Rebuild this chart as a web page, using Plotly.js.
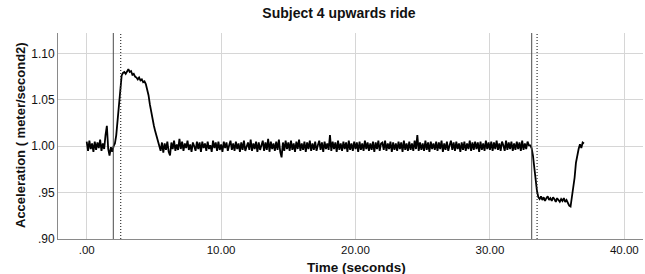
<!DOCTYPE html>
<html>
<head>
<meta charset="utf-8">
<script src="https://cdn.plot.ly/plotly-3.0.1.min.js"></script>
<style>
  html, body { margin: 0; padding: 0; background: #fff; }
  #chart { width: 645px; height: 274px; }
</style>
</head>
<body>
<div id="chart"></div>
<script>
// ---- Data ----
const chartTitle = "Subject 4 upwards ride";
const xTitle = "Time (seconds)";
const yTitle = "Acceleration ( meter/second2)";

const xTickVals = [0, 10, 20, 30, 40];
const xTickText = [".00", "10.00", "20.00", "30.00", "40.00"];
const yTickVals = [0.90, 0.95, 1.00, 1.05, 1.10];
const yTickText = [".90", ".95", "1.00", "1.05", "1.10"];

// event markers: onset (solid) and shifted onset (dotted), start and end of ride
const solidEventTimes = [1.98, 33.11];
const dottedEventTimes = [2.53, 33.51];

const timeSec = [
  0.0,0.1,0.2,0.3,0.4,0.5,0.6,0.7,0.8,0.9,
  1.0,1.1,1.2,1.3,1.4,1.5,1.6,1.7,1.8,1.9,
  2.0,2.1,2.2,2.3,2.4,2.5,2.6,2.7,2.8,2.9,
  3.0,3.1,3.2,3.3,3.4,3.5,3.6,3.7,3.8,3.9,
  4.0,4.1,4.2,4.3,4.4,4.5,4.6,4.7,4.8,4.9,
  5.0,5.1,5.2,5.3,5.4,5.5,5.6,5.7,5.8,5.9,
  6.0,6.1,6.2,6.3,6.4,6.5,6.6,6.7,6.8,6.9,
  7.0,7.1,7.2,7.3,7.4,7.5,7.6,7.7,7.8,7.9,
  8.0,8.1,8.2,8.3,8.4,8.5,8.6,8.7,8.8,8.9,
  9.0,9.1,9.2,9.3,9.4,9.5,9.6,9.7,9.8,9.9,
  10.0,10.1,10.2,10.3,10.4,10.5,10.6,10.7,10.8,10.9,
  11.0,11.1,11.2,11.3,11.4,11.5,11.6,11.7,11.8,11.9,
  12.0,12.1,12.2,12.3,12.4,12.5,12.6,12.7,12.8,12.9,
  13.0,13.1,13.2,13.3,13.4,13.5,13.6,13.7,13.8,13.9,
  14.0,14.1,14.2,14.3,14.4,14.5,14.6,14.7,14.8,14.9,
  15.0,15.1,15.2,15.3,15.4,15.5,15.6,15.7,15.8,15.9,
  16.0,16.1,16.2,16.3,16.4,16.5,16.6,16.7,16.8,16.9,
  17.0,17.1,17.2,17.3,17.4,17.5,17.6,17.7,17.8,17.9,
  18.0,18.1,18.2,18.3,18.4,18.5,18.6,18.7,18.8,18.9,
  19.0,19.1,19.2,19.3,19.4,19.5,19.6,19.7,19.8,19.9,
  20.0,20.1,20.2,20.3,20.4,20.5,20.6,20.7,20.8,20.9,
  21.0,21.1,21.2,21.3,21.4,21.5,21.6,21.7,21.8,21.9,
  22.0,22.1,22.2,22.3,22.4,22.5,22.6,22.7,22.8,22.9,
  23.0,23.1,23.2,23.3,23.4,23.5,23.6,23.7,23.8,23.9,
  24.0,24.1,24.2,24.3,24.4,24.5,24.6,24.7,24.8,24.9,
  25.0,25.1,25.2,25.3,25.4,25.5,25.6,25.7,25.8,25.9,
  26.0,26.1,26.2,26.3,26.4,26.5,26.6,26.7,26.8,26.9,
  27.0,27.1,27.2,27.3,27.4,27.5,27.6,27.7,27.8,27.9,
  28.0,28.1,28.2,28.3,28.4,28.5,28.6,28.7,28.8,28.9,
  29.0,29.1,29.2,29.3,29.4,29.5,29.6,29.7,29.8,29.9,
  30.0,30.1,30.2,30.3,30.4,30.5,30.6,30.7,30.8,30.9,
  31.0,31.1,31.2,31.3,31.4,31.5,31.6,31.7,31.8,31.9,
  32.0,32.1,32.2,32.3,32.4,32.5,32.6,32.7,32.8,32.9,
  33.0,33.1,33.2,33.3,33.4,33.5,33.6,33.7,33.8,33.9,
  34.0,34.1,34.2,34.3,34.4,34.5,34.6,34.7,34.8,34.9,
  35.0,35.1,35.2,35.3,35.4,35.5,35.6,35.7,35.8,35.9,
  36.0,36.1,36.2,36.3,36.4,36.5,36.6,36.7,36.8,36.9,
  37.0
];

const acceleration = [
  1.005,0.995,1.006,0.997,1.003,0.994,1.005,0.996,1.004,0.998,
  1.007,0.995,1.003,0.997,1.012,1.022,0.997,0.990,0.999,0.994,
  1.000,1.003,1.012,1.028,1.045,1.062,1.076,1.079,1.080,1.078,
  1.081,1.083,1.080,1.081,1.077,1.078,1.075,1.074,1.072,1.074,
  1.071,1.072,1.069,1.070,1.067,1.062,1.055,1.045,1.036,1.028,
  1.022,1.016,1.010,1.004,0.999,0.995,1.004,0.993,1.003,0.996,
  1.005,0.994,0.990,1.004,0.997,1.006,0.995,1.002,0.996,1.008,
  0.997,1.005,0.995,1.003,0.998,1.006,0.996,1.002,0.994,1.004,
  1.000,0.995,1.005,0.997,1.004,0.994,1.005,0.998,1.003,0.995,
  1.005,0.997,1.001,0.994,1.006,0.998,1.004,0.995,1.005,0.996,
  1.002,0.994,1.005,0.998,1.004,0.995,1.001,1.006,0.996,1.003,
  0.995,1.005,0.997,1.003,0.994,1.004,0.996,1.006,0.995,1.001,
  1.004,0.996,1.007,0.995,1.003,0.997,1.005,0.994,1.004,0.996,
  1.001,1.006,0.995,1.004,0.996,1.008,0.994,1.005,0.997,1.003,
  0.995,1.005,0.996,1.007,0.994,0.988,1.004,0.995,1.006,0.997,
  1.004,0.995,1.006,0.996,1.003,0.994,1.005,0.997,1.007,0.995,
  1.003,0.996,1.005,0.994,1.004,0.997,1.006,0.995,1.003,0.996,
  1.005,0.995,1.001,1.006,0.996,1.004,0.994,1.005,0.997,1.003,
  0.996,1.012,0.995,1.005,0.997,1.004,0.994,1.006,0.996,1.003,
  0.995,1.005,0.997,1.004,0.994,1.006,0.996,1.003,0.995,1.005,
  0.997,1.004,0.994,1.005,0.996,1.003,0.995,1.006,0.997,1.004,
  0.995,1.003,0.996,1.005,0.994,1.004,0.997,1.006,0.995,1.003,
  1.004,0.996,1.006,0.995,1.003,0.997,1.005,0.994,1.004,0.996,
  1.003,0.995,1.005,0.997,1.004,0.994,1.006,0.996,1.003,0.995,
  1.005,0.996,1.003,0.995,1.006,0.997,1.012,0.995,1.004,0.996,
  1.003,0.995,1.006,0.996,1.004,0.994,1.005,0.997,1.003,0.996,
  1.005,0.995,1.004,0.997,1.006,0.994,1.003,0.996,1.005,0.995,
  1.001,1.006,0.996,1.004,0.995,1.005,0.997,1.003,0.994,1.004,
  0.996,1.005,0.995,1.003,0.997,1.006,0.995,1.004,0.996,1.005,
  0.997,1.004,0.994,1.005,0.996,1.003,0.995,1.006,0.997,1.004,
  0.996,1.005,0.995,1.004,0.997,1.006,0.996,1.003,0.995,1.005,
  1.001,0.995,1.006,0.996,1.004,0.997,1.005,0.995,1.003,0.996,
  1.005,0.997,1.004,0.995,1.006,0.996,1.003,0.997,1.005,1.001,
  1.001,0.998,0.990,0.976,0.963,0.952,0.945,0.943,0.946,0.942,
  0.945,0.941,0.944,0.946,0.942,0.944,0.941,0.945,0.943,0.940,
  0.944,0.942,0.940,0.943,0.941,0.944,0.940,0.942,0.939,0.936,
  0.935,0.944,0.953,0.966,0.982,0.992,0.997,1.002,0.998,1.004,
  1.003
];

// ---- Styles ----
const FONT = "Arial, 'Liberation Sans', sans-serif";
const W = 645, H = 274;
const M = { l: 58, r: 2, t: 33, b: 35 };
const plotW = W - M.l - M.r, plotH = H - M.t - M.b;

const shapes = [];
solidEventTimes.forEach(t => shapes.push({
  type: "line", xref: "x", yref: "paper", x0: t, x1: t, y0: 0, y1: 1,
  line: { color: "#4a4a4a", width: 1 }, layer: "above"
}));
dottedEventTimes.forEach(t => shapes.push({
  type: "line", xref: "x", yref: "paper", x0: t, x1: t, y0: 0, y1: 1,
  line: { color: "#333333", width: 1.2, dash: "1px,2px" }, layer: "above"
}));

const trace = {
  x: timeSec, y: acceleration, type: "scatter", mode: "lines",
  line: { color: "#000000", width: 1.8 }, hoverinfo: "skip"
};

const layout = {
  width: W, height: H,
  margin: M,
  paper_bgcolor: "#ffffff", plot_bgcolor: "#ffffff",
  showlegend: false,
  font: { family: FONT, color: "#111111" },
  title: {
    text: chartTitle, xref: "container", yref: "container",
    x: 339 / W, xanchor: "center", y: 1 - 13.5 / H, yanchor: "middle",
    font: { family: FONT, size: 14, color: "#111111", weight: "bold" }
  },
  xaxis: {
    range: [-2.135, 41.39], tickvals: xTickVals, ticktext: xTickText,
    showgrid: true, gridcolor: "#d6d6d6", gridwidth: 1,
    showline: true, linecolor: "#8a8a8a", linewidth: 1,
    zeroline: false, ticks: "", tickfont: { family: FONT, size: 11.5, color: "#111111" }
  },
  yaxis: {
    range: [0.90, 1.122], tickvals: yTickVals, ticktext: yTickText,
    showgrid: true, gridcolor: "#d6d6d6", gridwidth: 1,
    showline: true, linecolor: "#8a8a8a", linewidth: 1,
    zeroline: false, ticks: "", tickfont: { family: FONT, size: 12, color: "#111111" }
  },
  shapes: shapes,
  annotations: [
    {
      text: "<b>" + xTitle + "</b>", xref: "paper", yref: "paper",
      x: (356 - M.l) / plotW, y: -(267 - (H - M.b)) / plotH,
      xanchor: "center", yanchor: "middle", showarrow: false,
      font: { family: FONT, size: 13.5, color: "#111111" }
    },
    {
      text: "<b>" + yTitle + "</b>", xref: "paper", yref: "paper",
      x: (20 - M.l) / plotW, y: ((H - M.b) - 135) / plotH,
      xanchor: "center", yanchor: "middle", showarrow: false, textangle: -90,
      font: { family: FONT, size: 13, color: "#111111" }
    }
  ]
};

Plotly.newPlot("chart", [trace], layout, { displayModeBar: false, staticPlot: true });
</script>
</body>
</html>
